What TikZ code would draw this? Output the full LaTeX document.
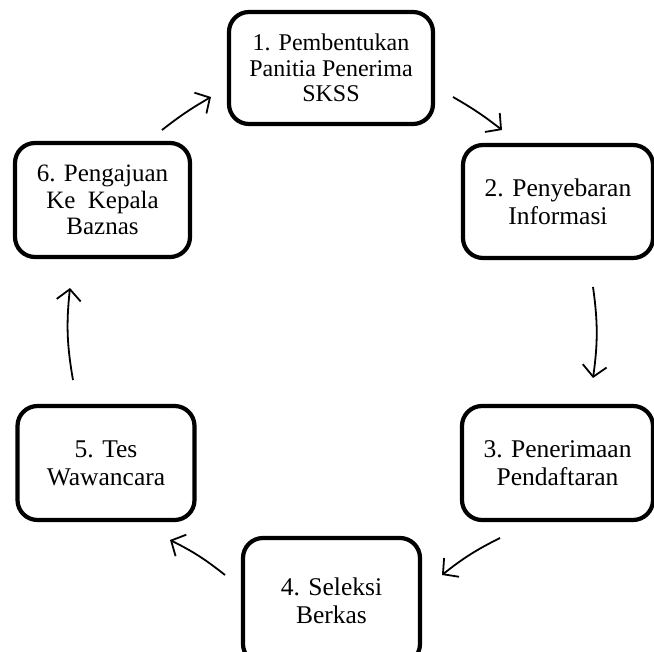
\documentclass[tikz,border=0pt]{standalone}
\usepackage{fontspec}
\setmainfont{Liberation Serif}
\usetikzlibrary{arrows.meta}
\begin{document}
\begin{tikzpicture}[x=1pt,y=-1pt,
  stepbox/.style={draw, line width=4.2pt, rounded corners=20pt, inner sep=0pt,
    align=center, font=\fontsize{25.5}{28}\selectfont},
  flow/.style={line width=1.8pt, -{Straight Barb[length=11pt,width=24pt,line width=1.8pt]}}]
\useasboundingbox (0,0) rectangle (654,652);
\node[stepbox, minimum width=204pt, minimum height=112pt, font=\fontsize{24}{25.5}\selectfont] (b1) at (331,68) {1. Pembentukan\\Panitia Penerima\\SKSS};
\node[stepbox, minimum width=190pt, minimum height=113pt] (b2) at (558,201.5) {2. Penyebaran\\Informasi};
\node[stepbox, minimum width=191pt, minimum height=114pt] (b3) at (557.5,463) {3. Penerimaan\\Pendaftaran};
\node[stepbox, minimum width=177pt, minimum height=126pt] (b4) at (331.5,601) {4. Seleksi\\Berkas};
\node[stepbox, minimum width=177pt, minimum height=114pt] (b5) at (106,463) {5. Tes\\Wawancara};
\node[stepbox, minimum width=175pt, minimum height=114pt, font=\fontsize{25}{26.5}\selectfont] (b6) at (102.5,200) {6. Pengajuan\\Ke\ \ Kepala\\Baznas};
\coordinate (a1s) at (162,130); \coordinate (a1e) at (211,97);
\coordinate (a2s) at (453,97);  \coordinate (a2e) at (502,130);
\coordinate (a3s) at (593,287); \coordinate (a3e) at (593,378);
\coordinate (a4s) at (500,538); \coordinate (a4e) at (442,575);
\coordinate (a5s) at (225,575); \coordinate (a5e) at (170,540);
\coordinate (a6s) at (73,380);  \coordinate (a6e) at (70,288);
\draw[flow] (a1s) to[bend left=4] (a1e);
\draw[flow] (a2s) to[bend left=4] (a2e);
\draw[flow] (a3s) to[bend left=8] (a3e);
\draw[flow] (a4s) to[bend right=6] (a4e);
\draw[flow] (a5s) to[bend right=6] (a5e);
\draw[flow] (a6s) to[bend left=8] (a6e);
\end{tikzpicture}
\end{document}
